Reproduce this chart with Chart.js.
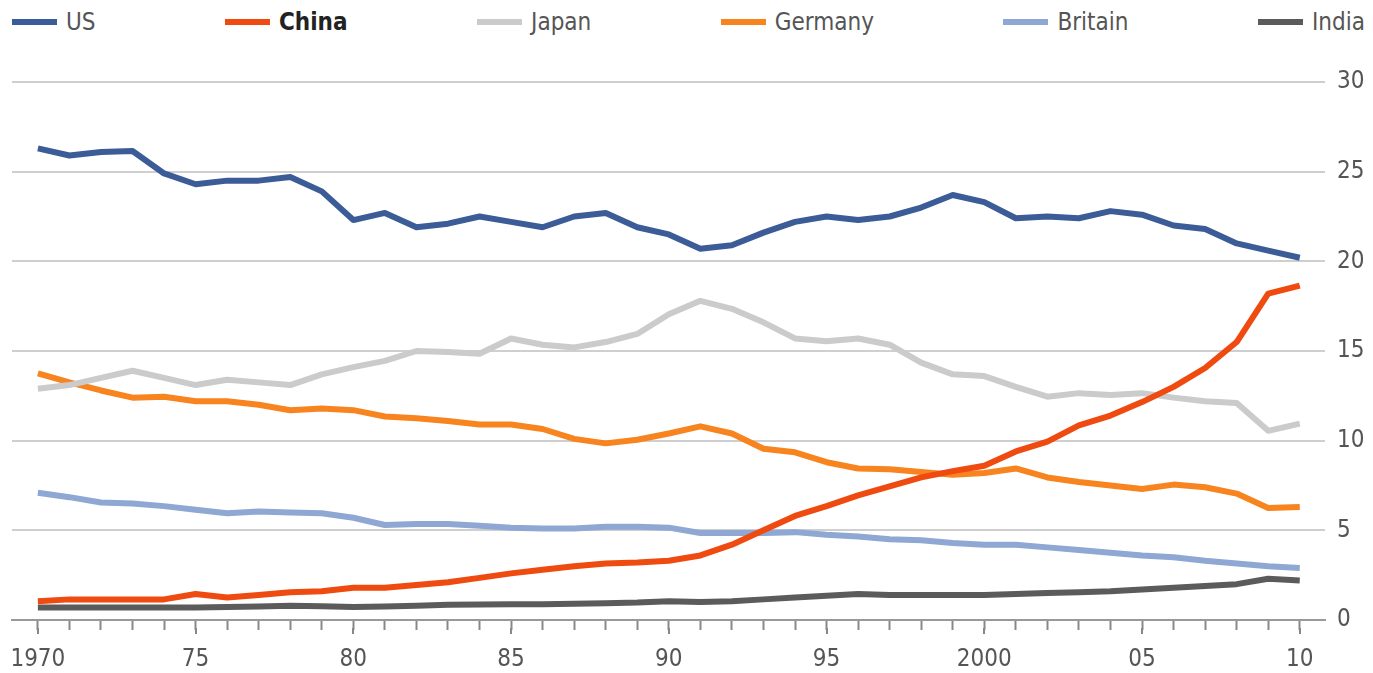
<!DOCTYPE html>
<html lang="en">
<head>
  <meta charset="UTF-8">
  <title>Share of world manufacturing output</title>
  <script src="https://cdn.jsdelivr.net/npm/chart.js"></script>
  <style>
    html, body {
      margin: 0;
      padding: 0;
      background: #fff;
      font-family: "DejaVu Sans Condensed", "Liberation Sans Narrow", sans-serif;
    }
    .wrap {
      position: relative;
      width: 1373px;
      height: 673px;
    }
    .legend {
      position: absolute;
      left: 12px;
      right: 8px;
      top: 8px;
      display: flex;
      justify-content: space-between;
      font-size: 24px;
      color: #555;
    }
    .legend span {
      display: flex;
      align-items: center;
    }
    .legend i {
      display: inline-block;
      width: 45px;
      height: 6px;
      margin-right: 9px;
    }
    .legend b {
      color: #222;
    }
    canvas {
      position: absolute;
      left: 0;
      top: 0;
    }
  </style>
</head>
<body>
  <div class="wrap">
    <div class="legend" id="legend"></div>
    <canvas id="chart" width="1373" height="673"></canvas>
  </div>

  <script>
    // years 1970 - 2010
    const years = [];
    for (let y = 1970; y <= 2010; y++) years.push(y);

    const tickYears = [1970, 1975, 1980, 1985, 1990, 1995, 2000, 2005, 2010];
    const tickLabels = ['1970', '75', '80', '85', '90', '95', '2000', '05', '10'];

    // % of world output
    const us = [26.3, 25.9, 26.1, 26.15, 24.9, 24.3, 24.5, 24.5, 24.7, 23.9,
                22.3, 22.7, 21.9, 22.1, 22.5, 22.2, 21.9, 22.5, 22.7, 21.9,
                21.5, 20.7, 20.9, 21.6, 22.2, 22.5, 22.3, 22.5, 23.0, 23.7,
                23.3, 22.4, 22.5, 22.4, 22.8, 22.6, 22.0, 21.8, 21.0, 20.6, 20.2];
    const china = [1.05, 1.15, 1.15, 1.15, 1.15, 1.45, 1.25, 1.4, 1.55, 1.6,
                   1.8, 1.8, 1.95, 2.1, 2.35, 2.6, 2.8, 3.0, 3.15, 3.2,
                   3.3, 3.6, 4.2, 5.0, 5.8, 6.35, 6.95, 7.45, 7.95, 8.3,
                   8.6, 9.4, 9.95, 10.85, 11.4, 12.15, 13.0, 14.05, 15.5, 18.2, 18.65];
    const japan = [12.9, 13.1, 13.5, 13.9, 13.5, 13.1, 13.4, 13.25, 13.1, 13.7,
                   14.1, 14.45, 15.0, 14.95, 14.85, 15.7, 15.35, 15.2, 15.5, 15.95,
                   17.05, 17.8, 17.35, 16.6, 15.7, 15.55, 15.7, 15.35, 14.35, 13.7,
                   13.6, 13.0, 12.45, 12.65, 12.55, 12.65, 12.4, 12.2, 12.1, 10.55, 10.95];
    const germany = [13.75, 13.25, 12.8, 12.4, 12.45, 12.2, 12.2, 12.0, 11.7, 11.8,
                     11.7, 11.35, 11.25, 11.1, 10.9, 10.9, 10.65, 10.1, 9.85, 10.05,
                     10.4, 10.8, 10.4, 9.55, 9.35, 8.8, 8.45, 8.4, 8.25, 8.1,
                     8.2, 8.45, 7.95, 7.7, 7.5, 7.3, 7.55, 7.4, 7.05, 6.25, 6.3];
    const britain = [7.1, 6.85, 6.55, 6.5, 6.35, 6.15, 5.95, 6.05, 6.0, 5.95,
                     5.7, 5.3, 5.35, 5.35, 5.25, 5.15, 5.1, 5.1, 5.2, 5.2,
                     5.15, 4.85, 4.85, 4.85, 4.9, 4.75, 4.65, 4.5, 4.45, 4.3,
                     4.2, 4.2, 4.05, 3.9, 3.75, 3.6, 3.5, 3.3, 3.15, 3.0, 2.9];
    const india = [0.7, 0.7, 0.7, 0.7, 0.7, 0.7, 0.72, 0.75, 0.8, 0.77,
                   0.72, 0.75, 0.8, 0.85, 0.87, 0.88, 0.88, 0.9, 0.93, 0.97,
                   1.05, 1.0, 1.05, 1.15, 1.25, 1.35, 1.45, 1.4, 1.4, 1.4,
                   1.4, 1.45, 1.5, 1.55, 1.6, 1.7, 1.8, 1.9, 2.0, 2.3, 2.2];

    const series = [
      { name: 'US', values: us, color: '#3c5c98' },
      { name: 'China', values: china, color: '#ef4a0f', bold: true },
      { name: 'Japan', values: japan, color: '#cbcbcb' },
      { name: 'Germany', values: germany, color: '#f7841f' },
      { name: 'Britain', values: britain, color: '#8fa7d3' },
      { name: 'India', values: india, color: '#5b5b5b' }
    ];

    // html legend
    const legend = document.getElementById('legend');
    series.forEach(s => {
      const item = document.createElement('span');
      const label = s.bold ? '<b>' + s.name + '</b>' : s.name;
      item.innerHTML = '<i style="background:' + s.color + '"></i>' + label;
      legend.appendChild(item);
    });

    const font = { family: '"DejaVu Sans Condensed", sans-serif', size: 24 };

    // the 5-year ticks are a bit longer than the yearly ones
    const majorTicks = {
      id: 'majorTicks',
      afterDraw(chart) {
        const xs = chart.scales.x;
        const c = chart.ctx;
        c.save();
        c.strokeStyle = '#888';
        c.lineWidth = 2;
        tickYears.forEach(v => {
          const px = Math.round(xs.getPixelForValue(v));
          c.beginPath();
          c.moveTo(px, xs.top + 8);
          c.lineTo(px, xs.top + 14);
          c.stroke();
        });
        c.restore();
      }
    };

    new Chart(document.getElementById('chart').getContext('2d'), {
      type: 'line',
      data: {
        datasets: series.map(s => ({
          label: s.name,
          data: s.values.map((v, i) => ({ x: years[i], y: v })),
          borderColor: s.color,
          backgroundColor: s.color,
          borderWidth: 6,
          pointRadius: 0,
          tension: 0,
          borderJoinStyle: 'round',
          fill: false
        }))
      },
      options: {
        responsive: false,
        animation: false,
        layout: { padding: { left: 12, right: 0, top: 82, bottom: 0 } },
        plugins: {
          legend: { display: false },
          tooltip: { enabled: false }
        },
        scales: {
          x: {
            type: 'linear',
            min: 1969.18,
            max: 2010.8,
            afterBuildTicks: scale => {
              scale.ticks = years.map(v => ({ value: v }));
            },
            afterFit: scale => {
              // fixed axis band, labels may hang over the left edge like the original
              scale.height = 53;
              scale.paddingLeft = 0;
              scale.paddingRight = 0;
            },
            grid: {
              drawOnChartArea: false,
              drawTicks: true,
              tickLength: 10,
              tickWidth: 2,
              tickColor: '#888'
            },
            border: { display: true, color: '#999', width: 2 },
            ticks: {
              autoSkip: false,
              maxRotation: 0,
              color: '#555',
              font: font,
              padding: 15,
              callback: v => {
                const k = tickYears.indexOf(v);
                return k >= 0 ? tickLabels[k] : '';
              }
            }
          },
          y: {
            position: 'right',
            min: 0,
            max: 30,
            afterFit: scale => {
              scale.width = 48;
            },
            grid: {
              color: '#cfcfcf',
              lineWidth: 2,
              drawTicks: false
            },
            border: { display: false },
            ticks: {
              stepSize: 5,
              color: '#555',
              font: font,
              padding: 12
            }
          }
        }
      },
      plugins: [majorTicks]
    });
  </script>
</body>
</html>
